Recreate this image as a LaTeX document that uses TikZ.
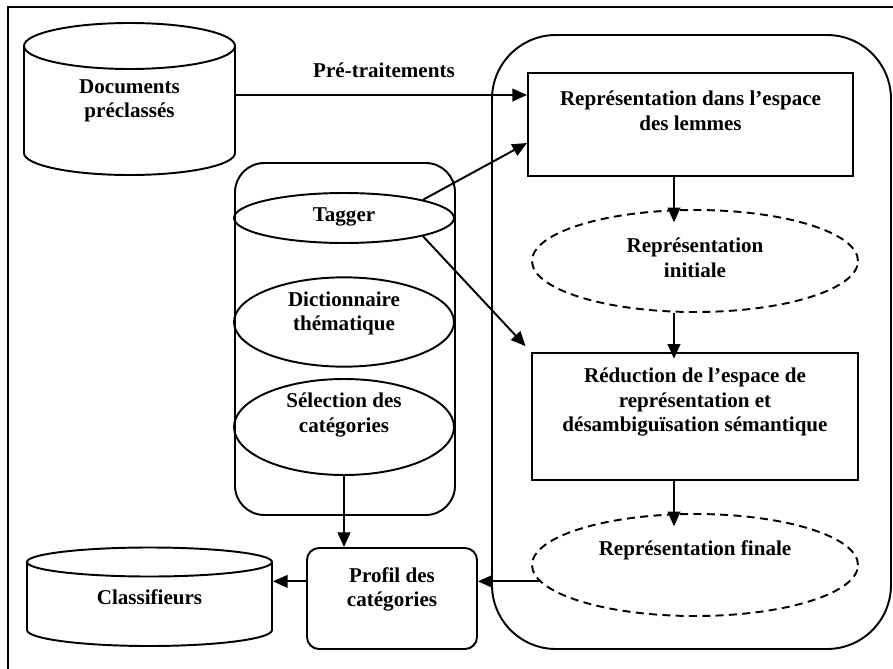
\documentclass[tikz,border=0pt]{standalone}
\usepackage{fontspec}
\setmainfont{Liberation Serif}
\usetikzlibrary{arrows.meta,shapes.geometric}
\begin{document}
\begin{tikzpicture}[x=0.75pt,y=-0.75pt, line width=1.45pt,
  lbl/.style={font=\fontsize{15.8}{18.5}\selectfont\bfseries, align=center, inner sep=0pt},
  arr/.style={-{Triangle[length=11pt,width=9.5pt]}},
  boxr/.style={draw, rectangle, inner sep=0pt},
  soldell/.style={draw, ellipse, inner sep=0pt, minimum width=165pt},
  dashell/.style={draw, ellipse, inner sep=0pt, dash pattern=on 6pt off 4pt, minimum width=244.5pt, minimum height=76.5pt}]
\useasboundingbox (0,0) rectangle (893,668);
\begin{scope}
  \clip (0,0) rectangle (893,668);
  \draw (8,7) rectangle (910,690);
\end{scope}
% Documents cylinder
\draw (24,46) -- (24,153) .. controls (24,165.15) and (71.2,175) .. (129.5,175)
      .. controls (187.8,175) and (235,165.15) .. (235,153) -- (235,46);
\draw (129.5,46) ellipse [x radius=105.5, y radius=23];
\node[lbl, minimum width=158.25pt] (docs) at (129.5,101) {Documents\\préclassés};
\coordinate (docsR) at (235,95);
% Classifieurs cylinder
\draw (27,562) -- (27,630) .. controls (27,638.84) and (81.8,646) .. (149.5,646)
      .. controls (217.2,646) and (272,638.84) .. (272,630) -- (272,562);
\draw (149.5,562) ellipse [x radius=122.5, y radius=14.5];
\node[lbl, minimum width=183.75pt] (class) at (149.5,597) {Classifieurs};
% big rounded container
\draw[rounded corners=48pt] (492,35) rectangle (891,649);
% middle container
\draw[rounded corners=22pt] (235,163) rectangle (455,515);
\node[soldell, minimum height=37.5pt] (tag) at (344,218) {};
\node[lbl] (tagt) at (344,217) {Tagger};
\node[soldell, minimum height=67pt] (dict) at (344,322) {};
\node[lbl] (dictt) at (344,313.5) {Dictionnaire\\thématique};
\node[soldell, minimum height=72pt] (sel) at (344,427) {};
\node[lbl] (selt) at (344,415) {Sélection des\\catégories};
% right column
\node[boxr, minimum width=243.75pt, minimum height=77.25pt] (rep) at (690.5,124.5) {};
\node[lbl] (rept) at (690.5,110.5) {Représentation dans l’espace\\des lemmes};
\node[dashell] (init) at (695,261) {};
\node[lbl] (initt) at (695,257.5) {Représentation\\initiale};
\node[boxr, minimum width=244.5pt, minimum height=95.25pt] (red) at (695,416.5) {};
\node[lbl] (redt) at (695,402) {Réduction de l’espace de\\représentation et\\désambiguïsation sémantique};
\node[dashell] (fin) at (695,565) {};
\node[lbl] (fint) at (695,550) {Représentation finale};
% profil
\node[draw, rounded corners=9pt, minimum width=127.5pt, minimum height=75.75pt, inner sep=0pt] (prof) at (392,598.5) {};
\node[lbl] (proft) at (392,589.5) {Profil des\\catégories};
% connectors
\coordinate (ax) at (674,0);
\draw[arr] (docsR) -- node[lbl, above=12pt, pos=0.51] {Pré-traitements} (rep.west |- docsR);
\draw[arr] (tag.13) -- ([yshift=-13.9pt]rep.west);
\draw[arr, shorten >=6pt] (tag.-13) -- (red.north west);
\draw[arr, shorten >=-10pt] (rep.south -| ax) -- (init.north -| ax);
\draw[arr, shorten >=-5pt] (init.south -| ax) -- (red.north -| ax);
\draw[arr, shorten >=-10pt] (red.south -| ax) -- (fin.north -| ax);
\draw[arr] (fin.186) -- (fin.186 -| prof.east);
\draw[arr] (prof.west |- fin.186) -- (class.east |- fin.186);
\draw[arr] (sel.south) -- (sel.south |- prof.north);
\end{tikzpicture}
\end{document}
